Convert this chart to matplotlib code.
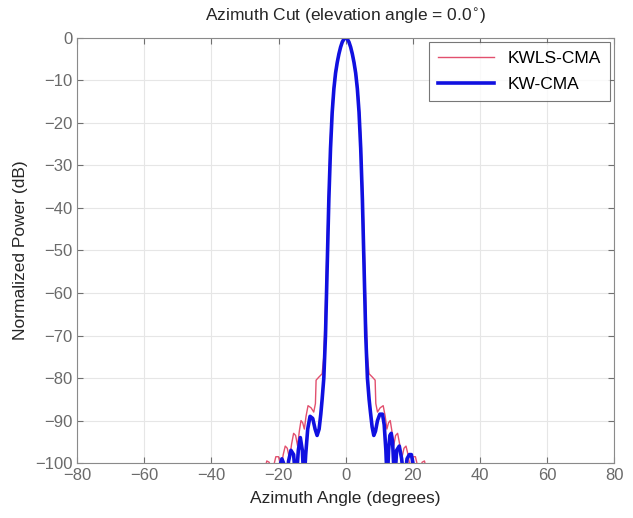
import matplotlib.pyplot as plt

plt.rcParams['font.family'] = ['Liberation Sans', 'DejaVu Sans']

# KW-CMA (thick blue)
kw_az = [-20.5, -19.7, -19.0, -18.5, -17.8, -17.0, -16.3, -15.5, -14.8, -14.1, -13.5,
         -12.9, -12.4, -11.9, -11.3, -10.6, -9.8, -9.1, -8.5, -7.9, -7.4, -7.0,
         -6.5, -6.0, -5.5, -5.0, -4.5, -4.0, -3.5, -3.0, -2.5, -2.0, -1.5, -1.0, -0.5,
         0.0, 0.5, 1.0, 1.5, 2.0, 2.5, 3.0, 3.5, 4.0, 4.5, 5.0, 5.5, 6.0,
         6.5, 7.0, 7.4, 7.9, 8.4, 8.9, 9.5, 10.2, 11.0, 11.5, 12.0, 12.4, 12.8,
         13.2, 13.6, 14.0, 14.6, 15.2, 16.0, 16.7, 17.5, 18.3, 19.0, 19.6, 20.3, 21.0]
kw_db = [-105, -101, -99, -100, -105, -99.5, -97, -98, -105, -97, -94,
         -97, -105, -98, -92, -89, -89.5, -92, -93.5, -92, -88.5, -85,
         -80, -70, -54, -38, -26, -17.5, -12, -8.3, -5.8, -3.8, -2.2, -1, -0.3,
         0, -0.3, -1, -2.2, -3.8, -5.8, -8.3, -12, -17.5, -26, -38, -54, -70,
         -80, -85, -88, -91.5, -93.5, -92.5, -90, -88.5, -88.5, -91, -97, -105, -97,
         -93.5, -93, -95, -105, -97, -96, -99, -105, -99, -98, -98, -101, -105]

# KWLS-CMA (thin red)
kwls_az = [-24.5, -23.5, -22.8, -22.0, -21.4, -20.8, -20.0, -19.2, -18.6, -18.0, -17.4,
           -16.7, -16.1, -15.5, -14.9, -14.3, -13.8, -13.3, -12.8, -12.3, -11.8, -11.2,
           -10.3, -9.5, -9.0, -8.8, -8.0, -7.0, -6.5, -6.0, -5.5, -5.0, -4.5, -4.0,
           -3.5, -3.0, -2.5, -2.0, -1.5, -1.0, -0.5, 0.0, 0.5, 1.0, 1.5, 2.0, 2.5,
           3.0, 3.5, 4.0, 4.5, 5.0, 5.5, 6.0, 6.5, 7.0, 8.0, 8.8, 9.0, 9.5, 10.3,
           11.2, 11.8, 12.3, 12.8, 13.3, 13.8, 14.3, 14.9, 15.5, 16.1, 16.7, 17.4,
           18.0, 18.6, 19.2, 20.0, 20.8, 21.4, 22.0, 22.8, 23.5, 24.5]
kwls_db = [-103, -99.5, -99.8, -102, -100.5, -98.5, -98.5, -101, -98, -96, -96.5,
           -99, -95.5, -93, -93.5, -96, -92.5, -90, -90.5, -92, -89, -86.5,
           -87, -88, -86, -80.5, -79.8, -79, -75, -63, -48, -34, -23, -15.5,
           -10.8, -7.5, -5.2, -3.4, -2, -0.9, -0.25, 0, -0.25, -0.9, -2, -3.4, -5.2,
           -7.5, -10.8, -15.5, -23, -34, -48, -63, -75, -79, -79.8, -80.5, -86, -88, -87,
           -86.5, -89, -92, -90.5, -90, -92.5, -96, -93.5, -93, -95.5, -99, -96.5,
           -96, -98, -101, -98.5, -98.5, -100.5, -102, -99.8, -99.5, -103]

xticks = list(range(-80, 81, 20))
yticks = list(range(-100, 1, 10))

fig = plt.figure(figsize=(6.33, 5.18), dpi=100)
ax = fig.add_axes([0.122, 0.106, 0.848, 0.821])

ax.plot(kwls_az, kwls_db, color='#e2506e', lw=1.0, label='KWLS-CMA')
ax.plot(kw_az, kw_db, color='#1010e0', lw=2.6, label='KW-CMA')

ax.set_xlim(-80, 80)
ax.set_ylim(-100, 0)
ax.set_xticks(xticks)
ax.set_yticks(yticks)
ax.grid(True, color='#e6e6e6', lw=0.8)
ax.set_axisbelow(True)
ax.tick_params(direction='in', top=True, right=True, labelsize=12,
               colors='#707070', labelcolor='#6a6a6a', length=4)
for s in ax.spines.values():
    s.set_color('#8a8a8a')

ax.set_xlabel('Azimuth Angle (degrees)', fontsize=12.5, color='#262626', labelpad=6)
ax.set_ylabel('Normalized Power (dB)', fontsize=12.5, color='#262626', labelpad=5)
ax.set_title('Azimuth Cut (elevation angle = 0.0$^{\\circ}$)', fontsize=12.5,
             color='#262626', pad=12)

leg = ax.legend(loc='upper right', fontsize=12.5, frameon=True, fancybox=False,
                handlelength=3.2, borderaxespad=0.25, labelspacing=0.65,
                borderpad=0.5)
leg.get_frame().set_edgecolor('#555555')
leg.get_frame().set_linewidth(0.8)

fig.savefig('out.png', dpi=100)
